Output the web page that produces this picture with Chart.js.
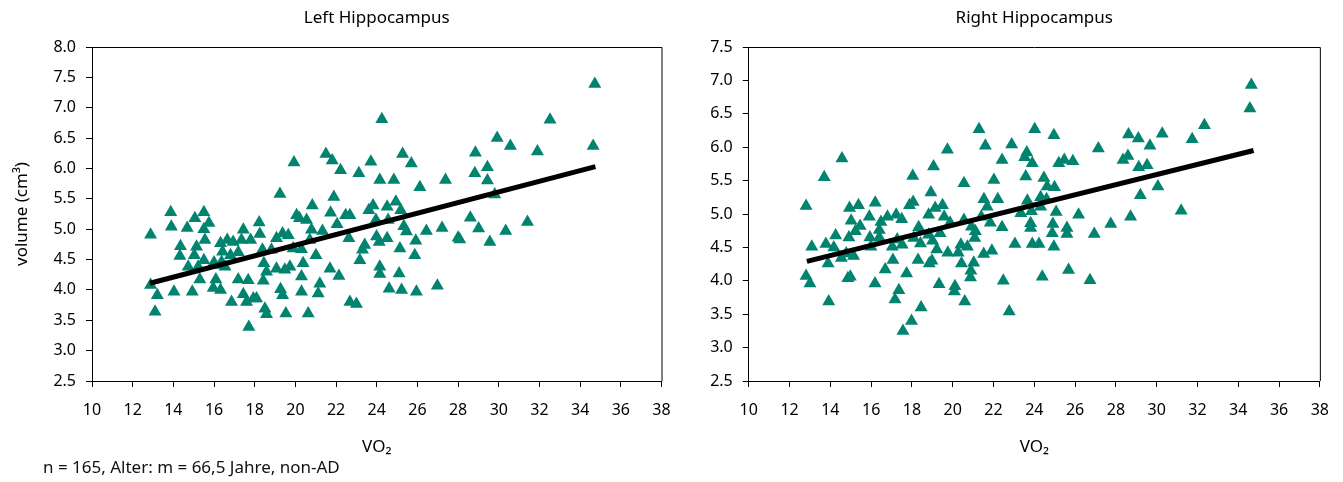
<!DOCTYPE html>
<html>
<head>
<meta charset="utf-8">
<script src="https://cdn.jsdelivr.net/npm/chart.js@4.4.1/dist/chart.umd.min.js"></script>
<style>
  html, body { margin: 0; padding: 0; background: #fff; }
  body { width: 1343px; height: 482px; position: relative; overflow: hidden; font-family: 'Noto Sans', sans-serif; }
  #leftWrap { position: absolute; left: 0; top: 0; }
  #rightWrap { position: absolute; left: 690px; top: 0; }
  #note { position: absolute; left: 43px; top: 456px; font-size: 17px; line-height: 22px; color: #111; }
</style>
</head>
<body>
<div id="leftWrap"><canvas id="leftChart" width="690" height="460"></canvas></div>
<div id="rightWrap"><canvas id="rightChart" width="653" height="460"></canvas></div>
<div id="note">n = 165, Alter: m = 66,5 Jahre, non-AD</div>
<script>
// axis ranges
const vo2Range = [10, 38];
const leftRange = [2.5, 8.0];
const rightRange = [2.5, 7.5];

// left hippocampus (VO2, volume)
const leftVO2 = [12.88,13.87,13.90,15.06,15.50,14.68,15.75,15.50,15.55,14.35,
  14.32,15.14,15.03,14.73,15.50,15.22,16.00,16.32,16.65,16.94,
  17.44,17.35,17.80,18.22,18.25,19.07,19.37,19.65,20.06,20.55,
  19.24,16.42,16.81,17.19,16.37,16.04,16.54,18.38,18.82,19.89,
  20.30,18.45,19.07,19.73,20.38,18.58,19.48,20.30,15.30,16.09,
  17.19,17.68,18.42,12.88,14.03,14.93,15.96,16.32,13.21,17.44,
  17.93,19.27,19.37,20.30,16.86,17.60,18.09,18.50,18.58,19.53,
  13.10,17.71,20.63,21.50,21.81,22.22,23.71,25.27,25.70,23.12,
  24.15,24.84,26.12,27.38,28.82,28.85,21.89,20.83,21.73,22.47,
  22.68,23.82,23.61,24.51,24.94,25.18,23.96,24.56,25.33,25.46,
  26.44,27.21,28.00,28.60,29.01,20.20,20.79,21.33,22.05,20.71,
  22.63,23.99,24.51,23.41,24.12,25.14,25.92,23.30,25.87,23.17,
  21.01,24.15,24.15,25.10,21.70,22.14,21.20,24.61,25.22,25.95,
  26.98,21.12,22.68,23.00,34.72,32.52,29.92,30.57,31.90,34.64,
  29.44,29.44,29.80,30.34,31.41,29.56,28.08,19.93,24.25];
const leftVolume = [4.91,5.28,5.04,5.18,5.28,5.02,5.10,5.00,4.82,4.72,
  4.56,4.71,4.57,4.38,4.49,4.38,4.45,4.77,4.82,4.79,
  4.99,4.82,4.82,5.11,4.92,4.85,4.93,4.90,5.23,5.15,
  5.58,4.63,4.57,4.62,4.46,4.41,4.38,4.66,4.66,4.68,
  4.67,4.44,4.35,4.38,4.44,4.30,4.33,4.22,4.17,4.17,
  4.17,4.16,4.15,4.08,3.97,3.97,4.03,4.00,3.91,3.93,
  3.86,4.01,3.91,3.97,3.80,3.80,3.86,3.69,3.60,3.61,
  3.64,3.39,3.61,6.24,6.13,5.97,6.11,6.24,6.08,5.92,
  5.81,5.81,5.69,5.81,5.92,6.26,5.53,5.39,5.27,5.23,
  5.23,5.39,5.31,5.37,5.45,5.31,5.15,5.15,5.05,4.96,
  4.97,5.02,4.86,5.19,5.01,5.18,4.99,4.97,5.08,4.82,
  4.85,4.88,4.85,4.74,4.79,4.68,4.81,4.66,4.57,4.49,
  4.57,4.38,4.26,4.27,4.35,4.23,4.10,4.02,4.00,3.97,
  4.07,3.94,3.80,3.77,7.39,6.80,6.50,6.37,6.28,6.37,
  6.02,5.80,5.57,4.97,5.12,4.79,4.83,6.10,6.81];

// right hippocampus (VO2, volume)
const rightVO2 = [14.57,13.70,12.81,13.09,12.81,13.00,13.92,13.78,13.89,14.26,
  14.17,14.94,15.38,15.02,15.46,14.91,15.23,14.54,15.14,14.78,
  14.86,14.98,15.91,16.20,15.94,16.40,16.48,16.80,17.23,17.50,
  15.99,16.40,17.28,17.04,17.52,17.07,16.69,16.19,17.74,17.36,
  17.17,18.45,17.98,17.56,18.04,19.06,18.93,17.88,18.06,18.82,
  19.14,19.50,19.58,19.87,18.33,18.09,18.42,18.82,19.38,19.01,
  19.22,18.30,18.85,18.98,19.76,20.27,19.33,20.11,20.08,20.59,
  20.43,20.40,20.55,20.55,19.74,21.29,21.60,22.42,22.89,24.02,
  24.96,23.63,23.53,23.90,25.20,25.47,25.89,27.14,28.62,29.10,
  28.35,28.59,29.12,22.02,23.58,24.47,24.63,24.99,21.53,22.21,
  21.69,21.40,21.84,20.92,21.11,21.08,22.42,23.66,24.31,24.60,
  24.31,23.34,23.86,25.07,26.17,23.82,23.82,24.91,24.88,25.60,
  25.60,27.75,28.72,29.20,26.94,23.05,23.90,24.23,24.96,20.72,
  21.52,21.92,21.03,20.89,20.87,22.48,24.39,25.68,26.73,22.77,
  34.64,34.57,32.34,31.74,30.27,29.67,29.53,30.06,31.20];
const rightVolume = [5.83,5.55,5.12,4.51,4.07,3.96,3.69,4.55,4.26,4.68,
  4.50,5.09,5.13,4.90,4.82,4.65,4.74,4.34,4.37,4.41,
  4.04,4.06,4.96,5.17,4.65,4.76,4.88,4.96,4.99,4.92,
  4.51,4.65,4.62,4.51,4.54,4.31,4.17,3.96,4.11,3.86,
  3.72,3.60,3.40,3.25,5.57,5.71,5.32,5.13,5.18,4.99,
  5.09,5.13,4.96,4.87,4.80,4.64,4.56,4.69,4.71,4.60,
  4.47,4.31,4.26,4.30,4.42,4.42,3.95,3.92,3.84,3.69,
  4.26,4.54,5.46,4.91,5.96,6.27,6.02,5.81,6.04,6.27,
  6.18,5.92,5.85,5.76,5.76,5.81,5.79,5.98,6.19,6.13,
  5.81,5.87,5.70,5.51,5.56,5.54,5.41,5.40,5.22,5.22,
  5.11,4.96,4.87,4.81,4.74,4.64,4.80,5.20,5.25,5.22,
  5.11,5.01,5.04,5.03,4.99,4.86,4.79,4.85,4.71,4.79,
  4.70,4.85,4.96,5.28,4.70,4.55,4.55,4.55,4.51,4.51,
  4.40,4.45,4.27,4.15,4.05,4.00,4.06,4.16,4.01,3.54,
  6.93,6.58,6.33,6.12,6.20,6.02,5.73,5.41,5.05];

// regression lines (end points)
const fitVO2 = [12.85, 34.75];
const leftFit = [4.11, 6.03];
const rightFit = [4.29, 5.95];

const teal = '#00836f';
const fontFamily = "'Noto Sans', sans-serif";

// plot box (top + right edges) and the panel title centred over the plot
const boxPlugin = {
  id: 'box',
  afterDraw(chart, args, opts) {
    const { ctx, chartArea: a } = chart;
    ctx.save();
    ctx.strokeStyle = '#000';
    ctx.lineWidth = 1;
    ctx.beginPath();
    ctx.moveTo(a.left, a.top + 0.5);
    ctx.lineTo(a.right + 0.5, a.top + 0.5);
    ctx.lineTo(a.right + 0.5, a.bottom);
    ctx.stroke();

    ctx.fillStyle = '#000';
    ctx.font = '17px ' + fontFamily;
    ctx.textAlign = 'center';
    ctx.textBaseline = 'middle';
    ctx.fillText(opts.title, (a.left + a.right) / 2, 18);
    ctx.restore();
  }
};

function makeChart(id, title, xs, ys, fitY, yRange, yTitle, yWidth, rightPad) {
  const points = xs.map((x, i) => ({ x: x, y: ys[i] }));
  const fit = fitVO2.map((x, i) => ({ x: x, y: fitY[i] }));

  return new Chart(document.getElementById(id).getContext('2d'), {
    type: 'scatter',
    data: {
      datasets: [{
        type: 'line',
        data: fit,
        borderColor: '#000',
        borderWidth: 5,
        borderCapStyle: 'butt',
        pointRadius: 0,
        fill: false,
        order: 0
      }, {
        data: points,
        pointStyle: 'triangle',
        pointRadius: 7.5,
        backgroundColor: teal,
        borderWidth: 0,
        order: 1
      }]
    },
    options: {
      responsive: false,
      animation: false,
      layout: { padding: { left: 0, right: rightPad, top: 47, bottom: 0 } },
      plugins: {
        legend: { display: false },
        tooltip: { enabled: false },
        title: { display: false },
        box: { title: title }
      },
      scales: {
        x: {
          type: 'linear',
          min: vo2Range[0],
          max: vo2Range[1],
          ticks: { stepSize: 2, color: '#000', padding: 14, font: { family: fontFamily, size: 16 } },
          grid: { drawOnChartArea: false, drawTicks: true, tickLength: 6, color: '#000' },
          border: { color: '#000', width: 1 },
          title: {
            display: true,
            text: 'VO₂',
            color: '#000',
            font: { family: fontFamily, size: 17 },
            padding: { top: 0, bottom: 3 }
          },
          afterFit(scale) { scale.height = 79; }
        },
        y: {
          type: 'linear',
          min: yRange[0],
          max: yRange[1],
          ticks: {
            stepSize: 0.5,
            color: '#000',
            padding: 10,
            font: { family: fontFamily, size: 16 },
            callback: v => v.toFixed(1)
          },
          grid: { drawOnChartArea: false, drawTicks: true, tickLength: 6, color: '#000' },
          border: { color: '#000', width: 1 },
          title: {
            display: !!yTitle,
            text: yTitle,
            color: '#000',
            font: { family: fontFamily, size: 17 },
            padding: { top: 12, bottom: 0 }
          },
          afterFit(scale) { scale.width = yWidth; }
        }
      }
    },
    plugins: [boxPlugin]
  });
}

makeChart('leftChart', 'Left Hippocampus', leftVO2, leftVolume, leftFit, leftRange, 'volume (cm³)', 92, 28.5);
makeChart('rightChart', 'Right Hippocampus', rightVO2, rightVolume, rightFit, rightRange, '', 58.75, 17.2);
</script>
</body>
</html>
